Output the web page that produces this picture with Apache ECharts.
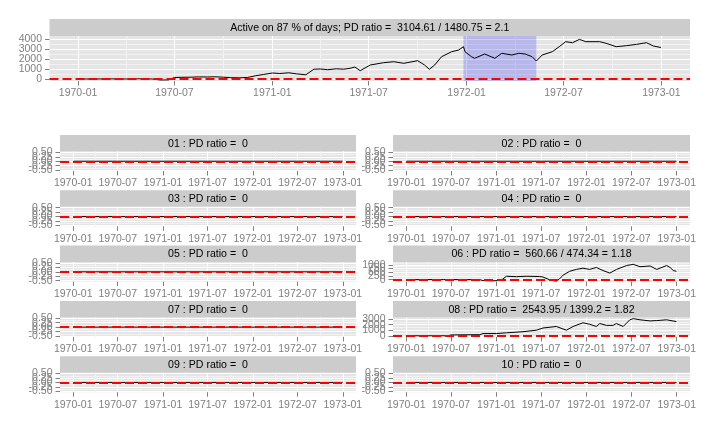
<!DOCTYPE html>
<html><head><meta charset="utf-8">
<script src="https://cdn.jsdelivr.net/npm/echarts@6/dist/echarts.min.js"></script>
<style>html,body{margin:0;padding:0;background:#fff}#c{width:710px;height:425px}</style>
</head><body><div id="c"></div>
<script>
// ---------------- data ----------------
const xTickLabels = ['1970-01','1970-07','1971-01','1971-07','1972-01','1972-07','1973-01'];
const xMinorTickLabels = ['1970-04','1970-10','1971-04','1971-10','1972-04','1972-10'];
const dataFirstDate = '1970-01-02';
const dataLastDate = '1972-12-31';

const topTitle = 'Active on 87 % of days; PD ratio =  3104.61 / 1480.75 = 2.1';
const topDates = ['1970-01-02','1970-02-01','1970-03-01','1970-04-01','1970-05-01','1970-05-20','1970-06-05','1970-06-20',
  '1970-07-01','1970-07-15','1970-08-01','1970-08-15','1970-09-01','1970-09-15','1970-10-01','1970-10-15','1970-11-01',
  '1970-11-15','1970-12-01','1970-12-15','1971-01-01','1971-01-15','1971-02-01','1971-02-15','1971-03-05','1971-03-20',
  '1971-04-01','1971-04-15','1971-05-01','1971-05-15','1971-05-27','1971-06-05','1971-06-15','1971-07-04','1971-07-29',
  '1971-08-17','1971-09-05','1971-10-01','1971-10-14','1971-10-23','1971-11-02','1971-11-15','1971-12-04','1971-12-17',
  '1971-12-26','1971-12-29','1972-01-10','1972-01-16','1972-02-04','1972-02-23','1972-03-07','1972-03-26','1972-04-08',
  '1972-04-20','1972-05-03','1972-05-11','1972-05-22','1972-06-10','1972-06-23','1972-07-05','1972-07-18','1972-07-31',
  '1972-08-12','1972-09-07','1972-09-19','1972-10-08','1972-10-27','1972-11-15','1972-12-04','1972-12-17','1972-12-31'];
const topValues = [0,0,10,0,20,0,-100,-90,
  150,170,180,210,200,220,180,130,120,
  150,330,450,600,550,620,520,420,980,
  1000,930,1020,980,1070,1200,830,1400,1630,
  1730,1570,1830,1400,970,1400,2230,2730,2900,
  3230,2730,2230,2070,2500,2070,2570,2400,2570,
  2500,2230,1800,2400,2730,3230,3730,3630,3960,
  3730,3730,3570,3230,3330,3460,3630,3300,3150];
const topYTicks = [0,1000,2000,3000,4000];
const drawdownStart = '1971-12-26';
const drawdownEnd = '1972-05-11';

const panelTitles = ['01 : PD ratio =  0','02 : PD ratio =  0','03 : PD ratio =  0','04 : PD ratio =  0',
  '05 : PD ratio =  0','06 : PD ratio =  560.66 / 474.34 = 1.18','07 : PD ratio =  0',
  '08 : PD ratio =  2543.95 / 1399.2 = 1.82','09 : PD ratio =  0','10 : PD ratio =  0'];

const zeroDates = ['1970-01-02','1972-12-31'];
const zeroValues = [0,0];
const zeroYTicks = [-0.5,-0.25,0,0.25,0.5];

const p06Dates = ['1970-01-02','1970-06-01','1970-10-26','1970-11-08','1970-12-15','1971-01-20','1971-02-11','1971-03-24',
  '1971-05-01','1971-06-25','1971-07-09','1971-08-06','1971-09-01','1971-09-14','1971-09-28','1971-10-25','1971-11-21',
  '1971-12-18','1972-01-14','1972-02-10','1972-03-08','1972-04-05','1972-05-02','1972-06-12','1972-07-09','1972-08-05',
  '1972-09-15','1972-10-12','1972-11-21','1972-12-05','1972-12-18','1972-12-31'];
const p06Values = [0,10,0,-60,-80,-50,230,200,
  230,210,180,-20,-100,50,300,560,690,
  770,690,820,615,440,690,950,1030,870,
  920,690,950,820,615,560.66];
const p06YTicks = [0,250,500,750,1000];

const p08Dates = ['1970-01-02','1970-06-20','1970-07-01','1970-10-26','1970-11-08','1971-01-01','1971-02-11','1971-04-19',
  '1971-06-12','1971-07-09','1971-08-06','1971-09-01','1971-10-12','1971-11-08','1971-12-18','1972-01-14','1972-02-10',
  '1972-02-24','1972-03-22','1972-04-18','1972-05-01','1972-05-29','1972-06-25','1972-07-09','1972-08-05','1972-09-15',
  '1972-10-12','1972-11-21','1972-12-31'];
const p08Values = [0,0,150,200,400,400,530,730,
  1000,1400,1530,1670,1000,1670,2330,2070,1670,
  2200,1870,1870,2200,1670,2870,3070,2870,2670,
  2730,2870,2544];
const p08YTicks = [0,1000,2000,3000];

// ---------------- helpers ----------------
const ts = s => { const p = s.split('-').map(Number); return Date.UTC(p[0], p[1] - 1, p[2] || 1); };
const first = ts(dataFirstDate), last = ts(dataLastDate);
const xPad = (last - first) * 0.05;
const xMin = first - xPad, xMax = last + xPad;
const xMajor = xTickLabels.map(ts);
const xMinor = xMinorTickLabels.map(ts);
const fmtDate = v => { const d = new Date(v); return d.getUTCFullYear() + '-' + String(d.getUTCMonth() + 1).padStart(2, '0'); };
function minorOf(major, lo, hi) {
  const step = major[1] - major[0], out = [];
  for (let k = -1; k < major.length; k++) { const m = major[0] + (k + 0.5) * step; if (m > lo && m < hi) out.push(m); }
  return out;
}

const FONT = '"Liberation Sans", Arial, Helvetica, sans-serif';
const GREY = '#7F7F7F';
const LABEL_FS = 10.5;
const STRIP_FS = 10.6;

// ---------------- layout ----------------
const panels = [];
panels.push({ left: 49.5, width: 640.5, stripTop: 19, stripH: 17, plotH: 45, title: topTitle,
  dates: topDates, values: topValues, yTicks: topYTicks, yMin: -200, yMax: 4300, dec: 0, area: true });
const cols = [{ left: 60, width: 296 }, { left: 393, width: 297 }];
for (let i = 0; i < 10; i++) {
  const row = Math.floor(i / 2), col = i % 2;
  let dates = zeroDates, values = zeroValues, yTicks = zeroYTicks, yMin = -0.55, yMax = 0.55, dec = 2;
  if (i === 5) { dates = p06Dates; values = p06Values; yTicks = p06YTicks; yMin = -130; yMax = 1180; dec = 0; }
  if (i === 7) { dates = p08Dates; values = p08Values; yTicks = p08YTicks; yMin = -200; yMax = 3300; dec = 0; }
  panels.push({ left: cols[col].left, width: cols[col].width, stripTop: 135 + 55.3 * row, stripH: 16.5, plotH: 19.5,
    title: panelTitles[i], dates, values, yTicks, yMin, yMax, dec, area: false });
}

const grid = [], xAxis = [], yAxis = [], series = [], graphic = [];
const noLine = { show: false, onZero: false };
panels.forEach((p, i) => {
  const top = p.stripTop + p.stripH;
  grid.push({ left: p.left, top: top, width: p.width, height: p.plotH, show: true, backgroundColor: '#E5E5E5',
    borderWidth: 0, containLabel: false, outerBoundsMode: 'none' });
  // minor x
  xAxis.push({ type: 'value', gridIndex: i, position: 'bottom', offset: 0, min: xMin, max: xMax, axisLine: noLine,
    axisTick: { show: false, customValues: xMinor }, axisLabel: { show: false },
    splitLine: { show: true, lineStyle: { color: '#F2F2F2', width: 1 } } });
  // major x
  xAxis.push({ type: 'value', gridIndex: i, position: 'bottom', offset: 0, min: xMin, max: xMax, axisLine: noLine,
    axisTick: { show: true, length: 4.5, customValues: xMajor, lineStyle: { color: GREY, width: 1 } },
    axisLabel: { show: true, customValues: xMajor, formatter: fmtDate, margin: 7, color: GREY, interval: 0,
      fontSize: LABEL_FS, fontFamily: FONT, hideOverlap: false, showMinLabel: true, showMaxLabel: true },
    splitLine: { show: true, lineStyle: { color: '#FFFFFF', width: 1 } } });
  const yMinor = minorOf(p.yTicks, p.yMin, p.yMax);
  yAxis.push({ type: 'value', gridIndex: i, position: 'left', offset: 0, min: p.yMin, max: p.yMax, axisLine: noLine,
    axisTick: { show: false, customValues: yMinor }, axisLabel: { show: false },
    splitLine: { show: true, lineStyle: { color: '#F2F2F2', width: 1 } } });
  // major y (ticks + grid lines)
  yAxis.push({ type: 'value', gridIndex: i, position: 'left', offset: 0, min: p.yMin, max: p.yMax, axisLine: noLine,
    axisTick: { show: true, length: 4.5, customValues: p.yTicks, lineStyle: { color: GREY, width: 1 } },
    axisLabel: { show: false },
    splitLine: { show: true, lineStyle: { color: '#FFFFFF', width: 1 } } });
  // one label-only axis per y tick so that overlapping labels are all kept (as in the reference)
  p.yTicks.forEach(v => {
    yAxis.push({ type: 'value', gridIndex: i, position: 'left', offset: 0, min: p.yMin, max: p.yMax, axisLine: noLine,
      axisTick: { show: false, customValues: [v] }, splitLine: { show: false },
      axisLabel: { show: true, customValues: [v], formatter: t => Number(t).toFixed(p.dec), margin: 7.5, interval: 0,
        color: GREY, fontSize: LABEL_FS, fontFamily: FONT, hideOverlap: false, showMinLabel: true, showMaxLabel: true } });
  });
  const yIdx = yAxis.length - p.yTicks.length - 1;
  series.push({
    type: 'line', xAxisIndex: 2 * i + 1, yAxisIndex: yIdx, showSymbol: false, symbol: 'none',
    data: p.dates.map((d, k) => [ts(d), p.values[k]]),
    lineStyle: { color: '#000000', width: 1 }, silent: true, z: 3,
    markLine: { silent: true, symbol: 'none', label: { show: false }, animation: false,
      lineStyle: { color: '#FF0000', type: [9, 4], width: 1.8 }, emphasis: { disabled: true },
      data: [{ yAxis: 0 }] }
  });
  if (p.area) {
    series.push({ type: 'line', xAxisIndex: 2 * i + 1, yAxisIndex: yIdx, data: [], z: 4, silent: true,
      markArea: { silent: true, itemStyle: { color: 'rgba(0,0,255,0.2)' }, label: { show: false },
        data: [[{ xAxis: ts(drawdownStart) }, { xAxis: ts(drawdownEnd) }]] } });
  }
  graphic.push({ type: 'rect', silent: true, shape: { x: p.left, y: p.stripTop, width: p.width, height: p.stripH },
    style: { fill: '#CCCCCC' } });
  graphic.push({ type: 'text', silent: true, x: p.left + p.width / 2, y: p.stripTop + p.stripH / 2 + 0.5,
    style: { text: p.title, fill: '#000000', fontSize: STRIP_FS, fontFamily: FONT,
      align: 'center', verticalAlign: 'middle', textAlign: 'center', textVerticalAlign: 'middle' } });
});

const chart = echarts.init(document.getElementById('c'), null, { renderer: 'canvas' });
chart.setOption({ animation: false, backgroundColor: '#FFFFFF', grid, xAxis, yAxis, series, graphic });
</script></body></html>
